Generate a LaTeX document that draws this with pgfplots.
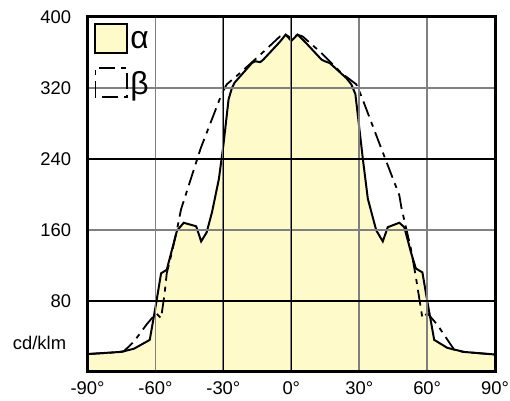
\documentclass[border=0pt]{standalone}
\usepackage{pgfplots}
\pgfplotsset{compat=1.18}
\usepackage{fontspec}
\setmainfont{Liberation Sans}
\definecolor{lampfill}{HTML}{FFFACA}
\definecolor{gridgray}{HTML}{808080}
\begin{document}
\begin{tikzpicture}
\path[use as bounding box] (-88pt,-29pt) rectangle (425pt,374pt);
\begin{axis}[
  scale only axis,
  width=410pt, height=357pt,
  xmin=-90, xmax=90, ymin=0, ymax=400,
  xtick={-90,-60,...,90},
  xticklabels={-90°,-60°,-30°,0°,30°,60°,90°},
  ytick={80,160,...,400},
  yticklabel style={/pgf/number format/assume math mode=true},
  extra x ticks={-30,0}, extra x tick labels={},
  extra y ticks={80,240}, extra y tick labels={},
  extra tick style={major grid style={black, line width=1.5pt}},
  grid=major,
  major grid style={gridgray, line width=1.8pt},
  major tick length=0pt,
  tick label style={font=\fontsize{18.5}{22}\selectfont},
  xticklabel style={yshift=-6pt},
  yticklabel style={xshift=-13pt},
  axis line style={line width=3pt},
  axis on top,
  clip=false,
  legend style={draw=none, fill=none, at={(axis cs:-87,393)}, anchor=north west,
    font=\fontsize{32}{34}\selectfont, row sep=13pt, inner sep=0pt},
  legend cell align=left,
  legend image code/.code={\draw[#1] (0pt,-13pt) rectangle (32pt,16pt);},
]
\addplot[draw=black, line width=2pt, fill=lampfill] coordinates {
(-90,20) (-81,21.5) (-75,22.5) (-69.5,26) (-62.5,36) (-59.7,77) (-57.5,111)
(-55,115) (-50.5,159) (-47.5,168) (-42,164) (-39.8,147) (-37.4,157) (-35,180)
(-32,217) (-30,255) (-27.7,307) (-26.2,320) (-25,326) (-17.4,348) (-15.9,350)
(-13.7,349) (-12.3,352) (-5,372) (-2.5,380) (0,373) (2.8,380) (6,372)
(13.3,352) (14.8,350) (17,348) (24.3,331) (26.5,324) (28.3,313) (31.6,240)
(33.8,195) (37.5,159.5) (40.4,147) (42.6,163) (47.7,168) (49.9,163) (52.8,135)
(55,116.5) (57.9,112) (60.1,79) (63.1,36) (68.9,27) (76.3,22.4) (90,19.5)
} \closedcycle;
\addplot[draw=black, line width=1.8pt, dash pattern=on 16pt off 6pt on 5pt off 6pt] coordinates {
(-90,20) (-80,21.5) (-74,23) (-69.5,34) (-63.7,54) (-59.7,66) (-57.5,60.5)
(-56,87) (-55,111) (-52.5,137) (-50.5,160) (-48.7,183) (-40,252) (-30.6,314)
(-28.5,324) (-22.5,337) (-13,359) (-5,378) (-2.5,380) (0,376) (2.8,380)
(5,378) (13,360) (17.7,348) (22,337) (28.7,324) (30.9,311) (40,250)
(47.7,199) (48.7,184) (52.8,139) (55,107) (56.5,83) (57.9,60.5) (60.1,66)
(64.5,53) (71.9,25) (76,22.4) (90,19.5)
};
\legend{α, β}
\node[anchor=east, font=\fontsize{18.5}{22}\selectfont] at (axis cs:-90,32.5) [xshift=-18pt] {cd/klm};
\end{axis}
\end{tikzpicture}
\end{document}
